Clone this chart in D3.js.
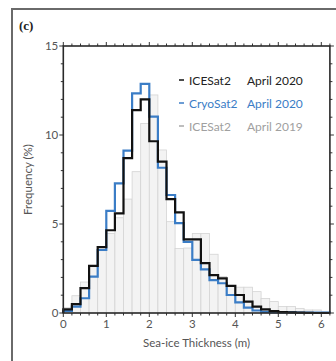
<!DOCTYPE html>
<html><head><meta charset="utf-8">
<script src="https://cdn.jsdelivr.net/npm/d3@7"></script>
<style>
html,body{margin:0;padding:0;background:#fff;}
svg{display:block;}
text{font-family:"Lato","Open Sans",sans-serif;fill:#555;}
</style></head>
<body>
<svg id="c" width="336" height="361"></svg>
<script>
// bin edges every 0.2 m from 0 to 6.2
const binWidth = 0.2;
const binStarts = d3.range(31).map(i => +(i * binWidth).toFixed(1));
const icesat2020 = [0.2,0.5,1.4,2.65,3.7,4.65,5.6,8.7,11.4,12.0,9.65,8.5,6.4,5.65,4.14,4.14,2.8,2.13,1.95,1.52,1.01,0.64,0.36,0.2,0.1,0.05,0.03,0.02,0.01,0,0];
const cryosat2020 = [0.12,0.36,0.83,2.04,3.54,5.74,7.28,9.12,12.34,12.87,11.03,8.16,6.63,5.05,4.0,2.98,2.45,1.85,1.67,1.01,0.6,0.3,0.14,0.06,0.04,0.03,0.03,0.02,0.02,0.02,0.02];
const icesat2019 = [0.3,0.97,1.74,2.6,3.5,4.47,5.35,6.4,7.94,10.65,12.25,9.16,5.13,3.63,3.65,4.47,4.47,3.3,2.05,1.55,1.45,1.45,1.2,0.82,0.64,0.36,0.36,0.26,0.17,0.17,0.07];
const xTicks = [0,1,2,3,4,5,6];
const yTicks = [0,5,10,15];
const legendNames = ["ICESat2","CryoSat2","ICESat2"];
const legendDates = ["April 2020","April 2020","April 2019"];
const legendColors = ["#111111","#3b7dc6","#a8a8a8"];
const legendTextColors = ["#222222","#3b7dc6","#a0a0a0"];
const panelLabel = "(c)";
const xLabel = "Sea-ice Thickness (m)";
const yLabel = "Frequency (%)";

const svg = d3.select("#c");
const L = 63.3, R = 329.9, T = 46, B = 313;
const x = d3.scaleLinear().domain([0, 6.2]).range([L, R]);
const y = d3.scaleLinear().domain([0, 15]).range([B, T]);

// outer frame
svg.append("rect").attr("x",12).attr("y",9).attr("width",340).attr("height",380)
  .attr("fill","none").attr("stroke","#6a6a6a").attr("stroke-width",2);

svg.append("text").attr("x",19).attr("y",30)
  .style("font-family","'Liberation Serif','DejaVu Serif',serif").style("font-weight","bold")
  .style("font-size","13px").style("fill","#222").text(panelLabel);

// gray bars
svg.append("g").selectAll("rect").data(icesat2019).join("rect")
  .attr("x",(d,i)=>x(binStarts[i]))
  .attr("width",(d,i)=>x(binStarts[i]+binWidth)-x(binStarts[i]))
  .attr("y",d=>y(d)).attr("height",d=>y(0)-y(d))
  .attr("fill","#f3f3f3").attr("stroke","#d4d4d4").attr("stroke-width",0.8);

function stepPts(vals){
  const pts=[[0,0]];
  vals.forEach((v,i)=>pts.push([binStarts[i],v]));
  pts.push([binStarts[vals.length-1]+binWidth,vals[vals.length-1]]);
  pts.push([binStarts[vals.length-1]+binWidth,0]);
  return pts;
}
const line = d3.line().x(d=>x(d[0])).y(d=>y(d[1])).curve(d3.curveStepAfter);
svg.append("path").attr("d",line(stepPts(cryosat2020))).attr("fill","none")
  .attr("stroke",legendColors[1]).attr("stroke-width",2.2);
svg.append("path").attr("d",line(stepPts(icesat2020))).attr("fill","none")
  .attr("stroke",legendColors[0]).attr("stroke-width",2.2);

// axes
const minorX = d3.range(0, 6.21, 0.2);
const minorY = d3.range(0, 15.01, 1);
const ax = svg.append("g").attr("stroke","#333");
minorX.forEach(v=>{
  const major = Math.abs(v-Math.round(v))<1e-6;
  const len = major?4:2.5;
  ax.append("line").attr("x1",x(v)).attr("x2",x(v)).attr("y1",B).attr("y2",B+len).attr("stroke-width",1);
  ax.append("line").attr("x1",x(v)).attr("x2",x(v)).attr("y1",T).attr("y2",T-len).attr("stroke-width",1);
});
minorY.forEach(v=>{
  const major = v%5===0;
  const len = major?4:2.5;
  ax.append("line").attr("x1",L).attr("x2",L-len).attr("y1",y(v)).attr("y2",y(v)).attr("stroke-width",1);
  ax.append("line").attr("x1",R).attr("x2",R+len).attr("y1",y(v)).attr("y2",y(v)).attr("stroke-width",1);
});
svg.append("rect").attr("x",L).attr("y",T).attr("width",R-L).attr("height",B-T)
  .attr("fill","none").attr("stroke","#2a2a2a").attr("stroke-width",1.6);

svg.append("g").selectAll("text").data(xTicks).join("text")
  .attr("x",d=>x(d)).attr("y",B+15).attr("text-anchor","middle")
  .style("font-size","11.5px").text(d=>d);
svg.append("g").selectAll("text").data(yTicks).join("text")
  .attr("x",L-5).attr("y",d=>y(d)+4).attr("text-anchor","end")
  .style("font-size","11.5px").text(d=>d);

svg.append("text").attr("x",(L+R)/2).attr("y",347).attr("text-anchor","middle")
  .style("font-size","11.5px").text(xLabel);
svg.append("text").attr("transform",`translate(32,${(T+B)/2}) rotate(-90)`)
  .attr("text-anchor","middle").style("font-size","11.5px").text(yLabel);

// legend
const lg = svg.append("g");
legendNames.forEach((n,i)=>{
  const yy = 80 + i*23;
  lg.append("line").attr("x1",179).attr("x2",184).attr("y1",yy).attr("y2",yy)
    .attr("stroke",legendColors[i]).attr("stroke-width",1.5);
  lg.append("text").attr("x",189).attr("y",yy+4.5).style("font-size","12px")
    .style("fill",legendTextColors[i]).text(n);
  lg.append("text").attr("x",247).attr("y",yy+4.5).style("font-size","12px")
    .style("fill",legendTextColors[i]).text(legendDates[i]);
});
</script>
</body></html>
